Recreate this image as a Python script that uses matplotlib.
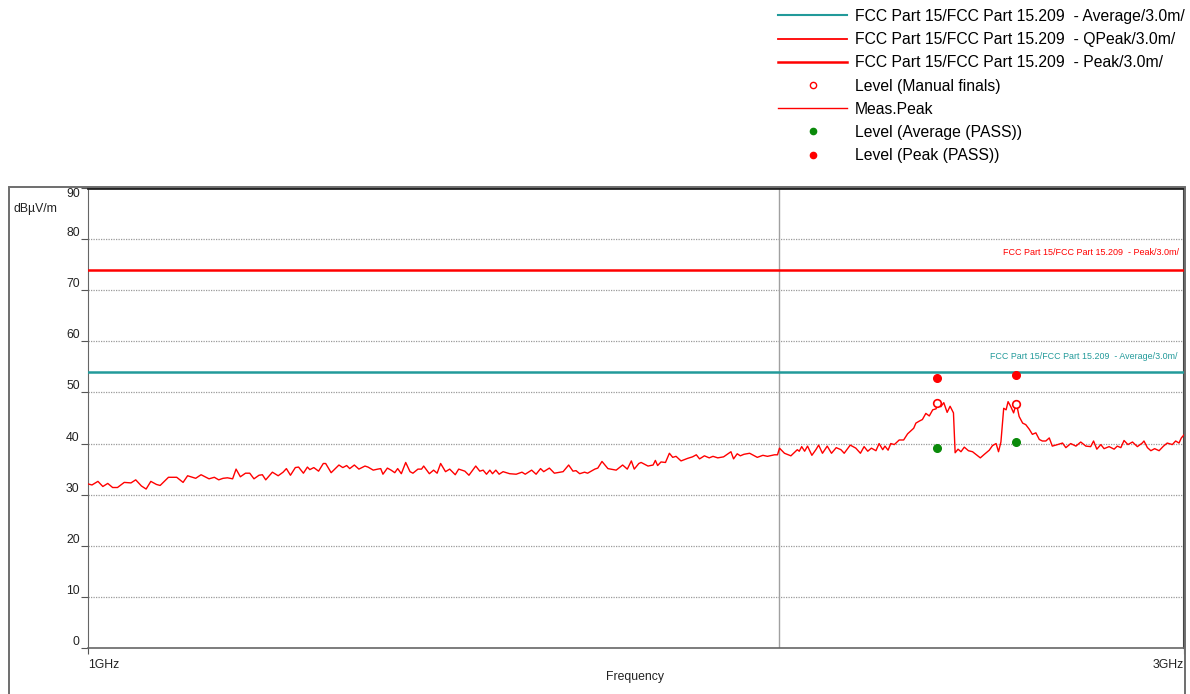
import matplotlib
matplotlib.use('Agg')
import matplotlib.pyplot as plt
import matplotlib.transforms as mtransforms
from matplotlib.lines import Line2D
from matplotlib.patches import Rectangle
from matplotlib.ticker import NullLocator

plt.rcParams['font.family'] = ['Liberation Sans', 'DejaVu Sans']

# ---------------- data ----------------
# Meas.Peak trace: frequency (MHz) and level (dBuV/m)
trace_freq = [
    1000, 1004, 1010, 1015, 1020, 1025, 1030, 1037, 1044, 1049, 1055, 1060, 1065, 1071, 1075,
    1084, 1093, 1100, 1105, 1114, 1120, 1129, 1135, 1140, 1145, 1150, 1156, 1160, 1165, 1171,
    1176, 1181, 1187, 1191, 1195, 1203, 1210, 1216, 1220, 1225, 1231, 1235, 1241, 1246, 1249,
    1254, 1260, 1266, 1269, 1276, 1286, 1291, 1296, 1300, 1306, 1312, 1320,
    1324, 1331, 1337, 1341, 1344, 1350, 1355, 1360, 1364, 1369, 1375, 1381, 1385, 1392, 1397,
    1400, 1408, 1414, 1419, 1424, 1431, 1437, 1445, 1450, 1459, 1465, 1475, 1481, 1486, 1491,
    1496, 1500, 1505, 1510, 1516, 1526, 1536, 1545, 1550, 1560, 1567, 1574, 1579, 1588, 1596,
    1610, 1619, 1626, 1631, 1637, 1645, 1650, 1662, 1667, 1674, 1684, 1698, 1709, 1717, 1724,
    1729, 1737,
    1741, 1753, 1762, 1766, 1770, 1776, 1784, 1791, 1797, 1803, 1812, 1824, 1833, 1840, 1846,
    1855, 1864, 1871, 1880, 1891, 1905, 1910, 1917, 1923, 1930, 1941, 1956, 1967, 1976, 1990,
    1996, 2000, 2010, 2023, 2036, 2040, 2045, 2051, 2057, 2066, 2075, 2080, 2088, 2098, 2107,
    2117, 2127, 2134, 2147, 2159, 2169, 2177, 2185, 2193, 2203, 2210, 2218, 2223, 2230, 2236,
    2244, 2255, 2265, 2274, 2288,
    2293, 2301, 2308, 2316, 2324, 2332, 2340, 2343, 2351, 2358, 2366, 2373, 2381, 2385, 2392,
    2399, 2407, 2417, 2427, 2438, 2446, 2456, 2468, 2476, 2485, 2491, 2497, 2504, 2510, 2515,
    2522, 2529, 2536, 2543, 2552, 2560, 2569, 2577, 2586, 2595, 2603, 2612, 2621, 2629, 2643,
    2656, 2665, 2678, 2692, 2705, 2719, 2732, 2740, 2749, 2760, 2769, 2783, 2797, 2806, 2816,
    2825, 2836, 2849, 2863, 2877, 2882, 2892, 2902, 2913, 2926, 2939, 2950, 2965, 2975, 2985,
    2992, 3000,
]
trace_level = [
    32.1, 31.9, 32.6, 31.6, 32.2, 31.4, 31.4, 32.4, 32.3, 32.9, 31.7, 31.1, 32.6, 32.0, 31.8,
    33.4, 33.4, 32.4, 33.7, 33.2, 33.9, 33.1, 33.4, 32.9, 33.2, 33.3, 33.1, 35.0, 33.5, 34.2,
    34.2, 33.1, 33.8, 33.9, 32.9, 34.4, 33.7, 34.4, 35.1, 33.8, 35.3, 35.4, 34.2, 35.4, 34.9,
    35.3, 34.6, 36.1, 36.1, 34.3, 35.8, 35.3, 35.7, 35.1, 35.8, 35.0, 35.6,
    35.4, 34.8, 35.0, 35.1, 34.0, 35.2, 34.8, 34.3, 35.1, 34.1, 36.3, 34.5, 34.2, 35.0, 35.0,
    35.6, 34.1, 34.8, 34.2, 36.1, 34.5, 35.0, 33.9, 35.0, 34.6, 33.8, 35.6, 34.6, 34.8, 34.0,
    34.8, 34.1, 34.8, 34.0, 34.5, 34.1, 34.0, 34.4, 34.0, 34.8, 34.0, 35.1, 34.5, 35.2, 34.2,
    34.5, 35.8, 34.6, 34.7, 34.1, 34.4, 34.2, 35.0, 35.2, 36.5, 35.1, 34.8, 35.8, 35.0, 36.6,
    35.0, 36.1,
    36.3, 35.6, 35.8, 36.7, 35.7, 36.4, 36.3, 38.1, 37.3, 37.5, 36.6, 37.1, 37.4, 37.8, 37.0,
    37.6, 37.2, 37.5, 37.2, 37.4, 38.4, 37.0, 38.0, 37.6, 37.9, 38.1, 37.3, 37.7, 37.5, 37.8,
    37.8, 39.1, 38.1, 37.6, 38.8, 38.5, 39.4, 38.5, 39.5, 37.7, 38.9, 39.7, 38.1, 39.5, 38.1,
    39.2, 38.8, 38.1, 39.7, 39.1, 38.1, 39.4, 38.5, 39.1, 38.6, 40.0, 38.8, 39.5, 38.7, 40.0,
    39.8, 40.7, 40.7, 41.9, 43.0,
    44.0, 44.4, 44.7, 45.9, 45.4, 46.6, 46.8, 48.0, 47.2, 48.0, 46.1, 47.3, 46.0, 38.2, 38.9,
    38.4, 39.3, 38.6, 38.4, 37.7, 37.2, 37.9, 38.7, 39.6, 40.0, 38.4, 40.3, 46.9, 46.6, 48.2,
    47.2, 46.0, 47.9, 45.3, 44.0, 43.7, 42.8, 41.8, 42.1, 40.8, 40.5, 40.5, 41.1, 39.5, 39.8,
    40.1, 39.2, 40.0, 39.5, 40.3, 39.5, 39.4, 40.5, 38.9, 39.8, 39.0, 39.4, 38.9, 39.5, 39.2,
    40.6, 39.8, 40.3, 39.4, 40.1, 40.5, 39.2, 38.6, 39.0, 38.6, 39.5, 40.1, 39.8, 40.5, 40.1,
    41.1, 41.7,
]

# Limits (dBuV/m)
limit_peak = 74.0
limit_avg = 54.0

# Final measurements
final_freq = [2343, 2536]
final_manual = [48.0, 47.8]
final_avg = [39.1, 40.3]
final_peak = [52.9, 53.4]

y_ticks = [0, 10, 20, 30, 40, 50, 60, 70, 80, 90]
x_ticks = [1000, 3000]
x_tick_labels = ['1GHz', '3GHz']

legend_labels = [
    'FCC Part 15/FCC Part 15.209  - Average/3.0m/',
    'FCC Part 15/FCC Part 15.209  - QPeak/3.0m/',
    'FCC Part 15/FCC Part 15.209  - Peak/3.0m/',
    'Level (Manual finals)',
    'Meas.Peak',
    'Level (Average (PASS))',
    'Level (Peak (PASS))',
]

# ---------------- style ----------------
RED = '#ff0000'
TEAL = '#229a9a'
GREEN = '#0a8a0a'
GRID = '#9a9a9a'
SMALL = 8.8

W, H = 1190, 694
fig = plt.figure(figsize=(W / 100, H / 100), dpi=100)

# outer frame
fig.patches.append(Rectangle((9 / W, -0.01), (1185 - 9) / W, (694 - 187) / H + 0.01,
                             transform=fig.transFigure, fill=False,
                             edgecolor='#6e6e6e', lw=1.4, zorder=0))

ax = fig.add_axes([88 / W, 1 - 648 / H, (1184 - 88) / W, (648 - 188) / H])
ax.set_xscale('log')
ax.set_xlim(1000, 3000)
ax.set_ylim(0, 90)
ax.xaxis.set_minor_locator(NullLocator())
ax.set_xticks(x_ticks)
ax.set_xticklabels(x_tick_labels)
for lab, ha in zip(ax.get_xticklabels(), ['left', 'right']):
    lab.set_ha(ha)
ax.tick_params(axis='x', length=4, color='#555555', labelsize=SMALL, pad=4, labelcolor='#222222')
ax.set_yticks(y_ticks)
ax.tick_params(axis='y', length=5, color='#555555', labelsize=SMALL, pad=1, labelcolor='#222222')
for lab, v in zip(ax.get_yticklabels(), y_ticks):
    lab.set_va('top' if v == 90 else 'bottom')

for v in y_ticks[1:-1]:
    ax.axhline(v, color=GRID, lw=0.9, ls=(0, (1, 1)), zorder=1)
ax.axvline(2000, color='#a0a0a0', lw=1.0, zorder=1)

ax.spines['left'].set_color('#666666')
ax.spines['bottom'].set_color('#666666')
ax.spines['bottom'].set_linewidth(1.2)
ax.spines['top'].set_color('#222222')
ax.spines['top'].set_linewidth(2.0)
ax.spines['right'].set_color('#444444')
ax.spines['right'].set_linewidth(1.5)

# limits
ax.axhline(limit_peak, color=RED, lw=1.8, zorder=3)
ax.axhline(limit_avg, color=TEAL, lw=1.8, zorder=3)
trans = mtransforms.blended_transform_factory(ax.transAxes, ax.transData)
ax.text(0.8349, limit_peak + 3.3, legend_labels[2], color=RED, fontsize=6.5,
        transform=trans, ha='left', va='center', clip_on=True)
ax.text(0.8230, limit_avg + 3.1, legend_labels[0], color=TEAL, fontsize=6.4,
        transform=trans, ha='left', va='center', clip_on=True)

# trace
ax.plot(trace_freq, trace_level, color=RED, lw=1.0, zorder=4)

# finals
ax.plot(final_freq, final_manual, 'o', mfc='white', mec=RED, mew=1.2, ms=5.5, ls='none', zorder=5)
ax.plot(final_freq, final_avg, 'o', color=GREEN, ms=5.5, ls='none', zorder=5)
ax.plot(final_freq, final_peak, 'o', color=RED, ms=5.5, ls='none', zorder=5)

# labels
fig.text(13 / W, 1 - 209 / H, 'dBµV/m', fontsize=SMALL, ha='left', va='center', color='#222222')
fig.text(635 / W, 1 - 677 / H, 'Frequency', fontsize=SMALL, ha='center', va='center', color='#222222')

# legend
handles = [
    Line2D([], [], color=TEAL, lw=1.5),
    Line2D([], [], color=RED, lw=1.3),
    Line2D([], [], color=RED, lw=1.8),
    Line2D([], [], marker='o', mfc='white', mec=RED, mew=1.0, ms=4.5, ls='none'),
    Line2D([], [], color=RED, lw=1.0),
    Line2D([], [], marker='o', color=GREEN, ms=4.5, ls='none'),
    Line2D([], [], marker='o', color=RED, ms=4.5, ls='none'),
]
fig.legend(handles, legend_labels, loc='upper left', bbox_to_anchor=(778 / W, 1 - 9 / H),
           frameon=False, fontsize=11.35, handlelength=4.4, handletextpad=0.5,
           labelspacing=0.52, borderpad=0, borderaxespad=0, numpoints=1)

fig.savefig('out.png', dpi=100)
